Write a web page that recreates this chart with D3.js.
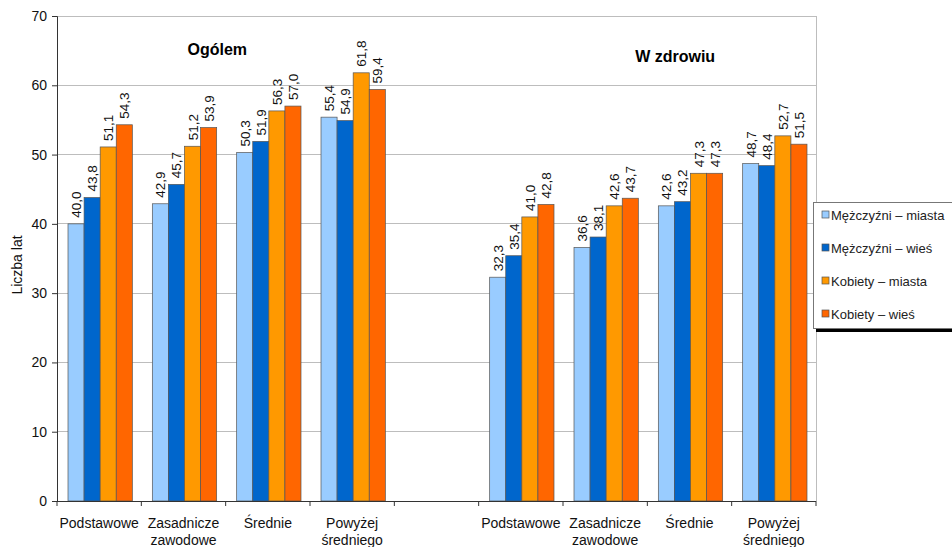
<!DOCTYPE html>
<html>
<head>
<meta charset="utf-8">
<script src="https://cdn.jsdelivr.net/npm/d3@7"></script>
<style>
  html, body { margin: 0; padding: 0; background: #fff; }
  svg { display: block; font-family: "Liberation Sans", Arial, sans-serif; }
</style>
</head>
<body>
<svg id="chart" width="952" height="547"></svg>
<script>
// Education levels; the empty slot separates the two panels
const educationLabels = [["Podstawowe"], ["Zasadnicze", "zawodowe"], ["Średnie"], ["Powyżej", "średniego"]];
const slots = ["o0", "o1", "o2", "o3", "gap", "z0", "z1", "z2", "z3"];
const panelTitles = ["Ogólem", "W zdrowiu"];

const seriesNames = ["Mężczyźni – miasta", "Mężczyźni – wieś", "Kobiety – miasta", "Kobiety – wieś"];
const seriesColors = ["#99CCFF", "#0066CC", "#FF9900", "#FF6600"];

// Ogólem (total life expectancy)
const ogolemMezMiasta = [40.0, 42.9, 50.3, 55.4];
const ogolemMezWies   = [43.8, 45.7, 51.9, 54.9];
const ogolemKobMiasta = [51.1, 51.2, 56.3, 61.8];
const ogolemKobWies   = [54.3, 53.9, 57.0, 59.4];

// W zdrowiu (healthy life expectancy)
const zdrowMezMiasta = [32.3, 36.6, 42.6, 48.7];
const zdrowMezWies   = [35.4, 38.1, 43.2, 48.4];
const zdrowKobMiasta = [41.0, 42.6, 47.3, 52.7];
const zdrowKobWies   = [42.8, 43.7, 47.3, 51.5];

const yTicks = [0, 10, 20, 30, 40, 50, 60, 70];

const ogolem = [ogolemMezMiasta, ogolemMezWies, ogolemKobMiasta, ogolemKobWies];
const zdrow = [zdrowMezMiasta, zdrowMezWies, zdrowKobMiasta, zdrowKobWies];

const rows = [];
[ogolem, zdrow].forEach((panel, p) => {
  for (let i = 0; i < 4; i++) {
    seriesNames.forEach((s, k) => {
      rows.push({ slot: (p === 0 ? "o" : "z") + i, series: s, k, value: panel[k][i] });
    });
  }
});

const svg = d3.select("#chart");
const m = { left: 57, right: 816, top: 16, bottom: 501 };

const x = d3.scaleBand().domain(slots).range([m.left, m.right]).paddingInner(0).paddingOuter(0);
const x1 = d3.scaleBand().domain(seriesNames).range([11, x.bandwidth() - 9]).padding(0);
const y = d3.scaleLinear().domain([0, 70]).range([m.bottom, m.top]);

const fmt = v => v.toFixed(1).replace(".", ",");

// horizontal gridlines
svg.append("g").selectAll("line").data(yTicks.filter(t => t > 0)).join("line")
  .attr("x1", m.left).attr("x2", m.right)
  .attr("y1", d => y(d)).attr("y2", d => y(d))
  .attr("stroke", "#bdbdbd").attr("stroke-width", 1).attr("shape-rendering", "crispEdges");

// right frame line of the plot area
svg.append("line")
  .attr("x1", m.right).attr("x2", m.right).attr("y1", m.top).attr("y2", m.bottom)
  .attr("stroke", "#bdbdbd").attr("shape-rendering", "crispEdges");

// bars
svg.append("g").selectAll("rect").data(rows).join("rect")
  .attr("x", d => x(d.slot) + x1(d.series))
  .attr("width", x1.bandwidth())
  .attr("y", d => y(d.value))
  .attr("height", d => y(0) - y(d.value))
  .attr("fill", d => seriesColors[d.k])
  .attr("stroke", "#555")
  .attr("stroke-width", 0.7);

// value labels, rotated
svg.append("g").selectAll("text").data(rows).join("text")
  .attr("transform", d => `translate(${x(d.slot) + x1(d.series) + x1.bandwidth() / 2 + 5},${y(d.value) - 6}) rotate(-90)`)
  .attr("font-size", 13.5)
  .attr("fill", "#111")
  .text(d => fmt(d.value));

// y axis
const yAxis = svg.append("g").attr("transform", `translate(${m.left},0)`)
  .call(d3.axisLeft(y).tickValues(yTicks).tickSize(5).tickPadding(5).tickFormat(d3.format("d")));
yAxis.select(".domain").attr("stroke", "#333");
yAxis.selectAll(".tick line").attr("stroke", "#333");
yAxis.selectAll("text").attr("font-size", 14).attr("fill", "#111").attr("font-family", "Liberation Sans, Arial, sans-serif");

// x axis with ticks at band boundaries
svg.append("line")
  .attr("x1", m.left).attr("x2", m.right).attr("y1", m.bottom + 0.5).attr("y2", m.bottom + 0.5)
  .attr("stroke", "#333");
const boundaries = slots.map(s => x(s)).concat([m.right]);
svg.append("g").selectAll("line").data(boundaries).join("line")
  .attr("x1", d => d).attr("x2", d => d)
  .attr("y1", m.bottom).attr("y2", m.bottom + 5)
  .attr("stroke", "#333");

// category labels
const catData = slots.filter(s => s !== "gap").map(s => ({ slot: s, lines: educationLabels[+s[1]] }));
const cat = svg.append("g").selectAll("text").data(catData).join("text")
  .attr("x", d => x(d.slot) + x.bandwidth() / 2)
  .attr("y", 528)
  .attr("text-anchor", "middle")
  .attr("font-size", 14)
  .attr("fill", "#111");
cat.selectAll("tspan").data(d => d.lines).join("tspan")
  .attr("x", function () { return d3.select(this.parentNode).attr("x"); })
  .attr("dy", (d, i) => i === 0 ? 0 : 17)
  .text(d => d);

// panel titles
svg.append("text")
  .attr("x", x("o1") + x.bandwidth() * 0.9).attr("y", 55)
  .attr("text-anchor", "middle").attr("font-size", 16).attr("font-weight", "bold")
  .text(panelTitles[0]);
svg.append("text")
  .attr("x", x("z2") + x.bandwidth() * 0.33).attr("y", 62)
  .attr("text-anchor", "middle").attr("font-size", 16).attr("font-weight", "bold")
  .text(panelTitles[1]);

// y axis title
svg.append("text")
  .attr("transform", `translate(22,265) rotate(-90)`)
  .attr("text-anchor", "middle").attr("font-size", 14).attr("fill", "#111")
  .text("Liczba lat");

// legend
const lg = svg.append("g").attr("transform", "translate(813,202)");
lg.append("rect").attr("x", 3).attr("y", 3).attr("width", 150).attr("height", 127).attr("fill", "#000");
lg.append("rect").attr("x", 0.5).attr("y", 0.5).attr("width", 150).attr("height", 126)
  .attr("fill", "#fff").attr("stroke", "#777");
const items = lg.selectAll("g.item").data(seriesNames).join("g")
  .attr("transform", (d, i) => `translate(0,${13 + i * 33})`);
items.append("rect").attr("x", 9).attr("y", -4).attr("width", 7).attr("height", 7)
  .attr("fill", (d, i) => seriesColors[i]).attr("stroke", "#555").attr("stroke-width", 0.7);
items.append("text").attr("x", 18).attr("y", 0).attr("dy", "0.35em")
  .attr("font-size", 13).attr("fill", "#222").text(d => d);
</script>
</body>
</html>
